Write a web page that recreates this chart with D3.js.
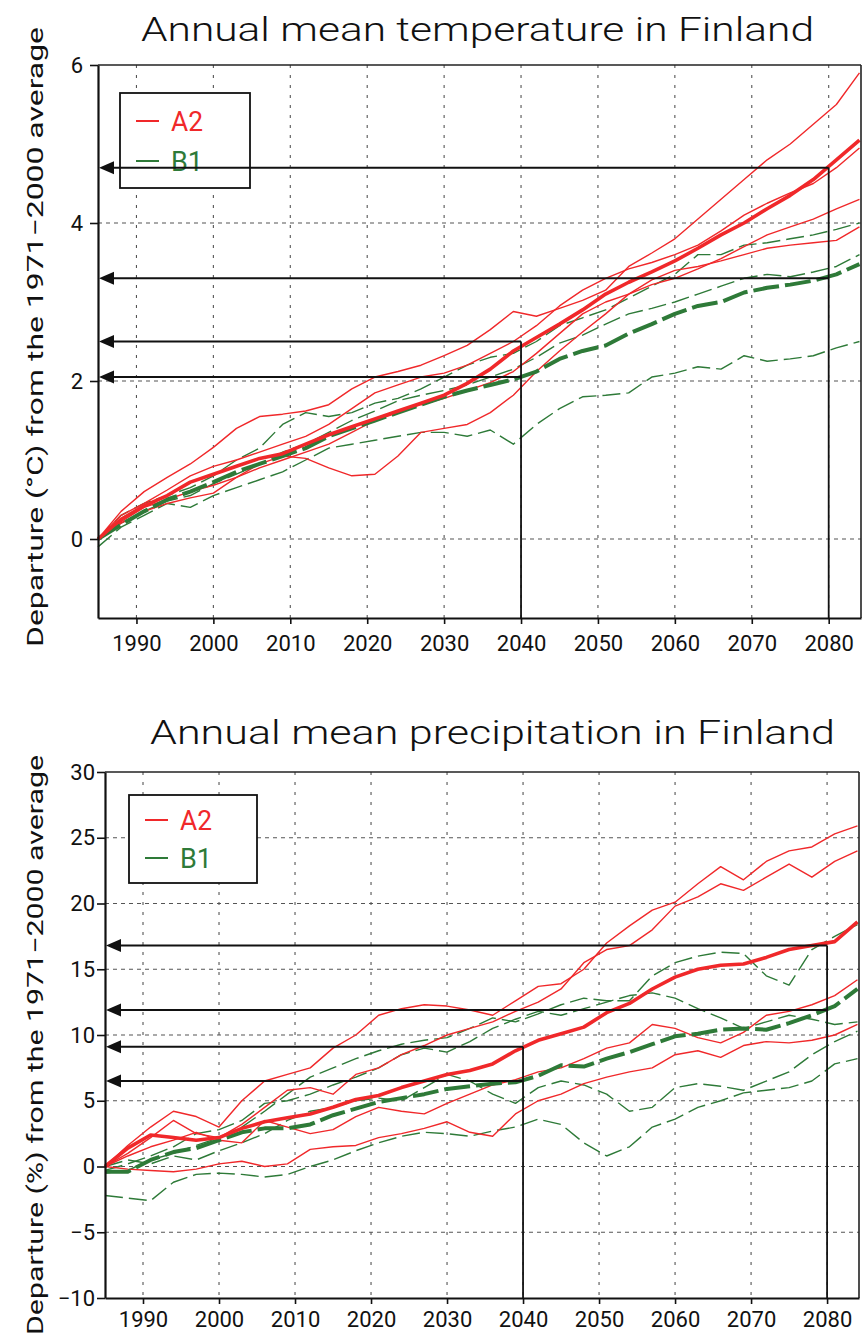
<!DOCTYPE html>
<html><head><meta charset="utf-8">
<script src="https://cdn.jsdelivr.net/npm/d3@7"></script>
<style>body{margin:0;background:#fff} svg{display:block}</style>
</head><body>
<svg id="c" width="865" height="1336"></svg>
<script>
// ---------- data ----------
const years = [1985,1988,1991,1994,1997,2000,2003,2006,2009,2012,2015,2018,2021,2024,2027,2030,2033,2036,2039,2042,2045,2048,2051,2054,2057,2060,2063,2066,2069,2072,2075,2078,2081,2084];
const xTicks = [1990,2000,2010,2020,2030,2040,2050,2060,2070,2080];
const tempTicks = [0,2,4,6];
const precTicks = [-10,-5,0,5,10,15,20,25,30];
const legendLabels = ["A2","B1"];

// temperature (°C)
const tempA2Mean = [0.00,0.25,0.42,0.55,0.72,0.82,0.92,1.02,1.08,1.20,1.32,1.42,1.52,1.62,1.72,1.82,1.97,2.15,2.38,2.55,2.72,2.90,3.10,3.25,3.38,3.52,3.68,3.85,4.00,4.18,4.35,4.55,4.80,5.05];
const tempB1Mean = [0.00,0.18,0.35,0.50,0.60,0.72,0.85,0.95,1.05,1.15,1.30,1.40,1.50,1.60,1.70,1.80,1.88,1.95,2.02,2.12,2.28,2.38,2.45,2.60,2.72,2.85,2.95,3.00,3.12,3.18,3.22,3.27,3.35,3.48];
const tempA2_1 = [0,0.35,0.60,0.78,0.95,1.16,1.40,1.55,1.58,1.62,1.70,1.90,2.05,2.12,2.20,2.32,2.45,2.65,2.88,2.82,2.92,3.02,3.15,3.45,3.62,3.80,4.05,4.30,4.55,4.80,5.00,5.25,5.50,5.90];
const tempA2_2 = [0,0.30,0.45,0.62,0.80,0.92,1.00,1.10,1.20,1.30,1.45,1.65,1.85,1.95,2.05,2.10,2.20,2.35,2.50,2.70,2.95,3.15,3.30,3.42,3.50,3.60,3.72,3.90,4.10,4.25,4.38,4.50,4.70,4.95];
const tempA2_3 = [0,0.22,0.40,0.50,0.60,0.68,0.78,0.90,1.00,1.10,1.20,1.35,1.50,1.60,1.70,1.78,1.88,1.98,2.12,2.35,2.60,2.85,3.00,3.10,3.22,3.30,3.42,3.55,3.70,3.85,3.95,4.05,4.18,4.30];
const tempA2_4 = [0,0.20,0.35,0.45,0.52,0.58,0.78,0.95,1.05,1.02,0.90,0.80,0.82,1.05,1.35,1.40,1.45,1.60,1.82,2.12,2.38,2.62,2.85,3.10,3.28,3.40,3.45,3.52,3.60,3.68,3.72,3.75,3.78,3.95];
const tempB1_1 = [0,0.30,0.45,0.55,0.65,0.80,1.00,1.15,1.45,1.60,1.55,1.60,1.72,1.78,1.90,2.05,2.20,2.30,2.35,2.50,2.70,2.80,2.90,3.05,3.20,3.35,3.60,3.60,3.72,3.75,3.80,3.85,3.92,4.00];
const tempB1_2 = [-0.10,0.15,0.30,0.45,0.40,0.55,0.65,0.75,0.85,1.00,1.15,1.20,1.25,1.30,1.35,1.35,1.30,1.38,1.20,1.45,1.65,1.80,1.82,1.85,2.05,2.10,2.18,2.15,2.32,2.25,2.28,2.32,2.42,2.50];
const tempB1_3 = [0,0.20,0.35,0.48,0.55,0.70,0.82,0.95,1.10,1.20,1.35,1.50,1.62,1.75,1.82,1.88,1.95,2.05,2.15,2.30,2.48,2.58,2.72,2.85,2.92,3.00,3.10,3.20,3.30,3.35,3.32,3.38,3.45,3.60];
const tempArrowYears = [2080,2080,2040,2040];
const tempArrowValues = [4.7,3.3,2.5,2.05];

// precipitation (%)
const precA2Mean = [0.0,1.4,2.4,2.2,2.0,2.2,2.9,3.4,3.7,4.0,4.5,5.1,5.4,6.0,6.5,7.0,7.3,7.8,8.8,9.6,10.1,10.6,11.7,12.4,13.5,14.4,15.0,15.3,15.4,15.9,16.5,16.8,17.1,18.6];
const precB1Mean = [-0.4,-0.4,0.5,1.1,1.4,2.0,2.6,2.9,2.9,3.2,3.9,4.4,4.9,5.2,5.5,5.9,6.1,6.3,6.4,6.9,7.7,7.6,8.2,8.7,9.3,9.9,10.1,10.4,10.5,10.4,10.9,11.5,12.2,13.5];
const precA2_1 = [0.0,1.6,3.0,4.2,3.8,3.0,5.0,6.5,7.0,7.5,9.0,10.0,11.5,12.0,12.3,12.2,11.9,11.5,12.6,13.7,13.9,15.0,17.0,18.3,19.5,20.1,21.5,22.8,21.8,23.2,24.0,24.3,25.3,25.9];
const precA2_2 = [0.0,1.0,2.2,3.5,2.5,2.2,3.2,4.5,5.8,6.0,5.5,7.0,7.5,8.5,9.2,10.0,10.5,11.0,11.8,12.5,13.5,15.5,16.5,16.8,18.0,19.8,20.5,21.5,21.0,22.0,23.0,22.0,23.2,24.0];
const precA2_3 = [0.0,0.8,1.5,2.0,2.6,2.0,1.8,3.5,3.0,2.5,2.8,3.8,4.5,4.2,4.0,4.8,5.5,6.2,6.6,7.2,7.5,8.2,9.0,9.4,10.8,10.5,9.8,9.4,10.2,11.5,11.8,12.3,13.0,14.2];
const precA2_4 = [0.0,-0.2,-0.3,-0.4,-0.2,0.2,0.4,0.0,0.2,1.3,1.5,1.6,2.2,2.5,2.9,3.4,2.6,2.3,4.0,5.0,5.5,6.3,6.8,7.2,7.5,8.5,8.8,8.3,9.2,9.5,9.4,9.6,10.0,10.8];
const precB1_1 = [-0.5,-0.3,0.5,1.0,1.6,2.2,3.0,4.2,5.5,6.8,7.5,8.2,8.8,9.3,9.6,9.8,10.5,11.3,11.0,11.6,12.3,12.8,12.6,12.6,14.5,15.5,16.0,16.3,16.2,14.5,13.8,16.5,17.5,18.4];
const precB1_2 = [-0.3,0.2,0.8,1.5,2.5,2.8,3.5,4.8,5.0,5.5,6.2,6.8,7.5,8.5,9.0,8.7,9.5,10.5,11.2,11.8,11.5,12.0,12.5,13.0,13.2,12.8,12.0,11.3,10.5,11.0,11.5,11.2,10.8,11.0];
const precB1_3 = [-2.2,-2.4,-2.6,-1.2,-0.6,-0.5,-0.6,-0.8,-0.6,0.0,0.5,1.2,1.8,2.3,2.6,2.5,2.3,2.7,3.0,3.6,3.2,1.8,0.8,1.5,3.0,3.6,4.5,5.0,5.6,5.8,6.0,6.5,7.8,8.2];
const precB1_4 = [0.0,0.5,0.2,0.8,0.5,1.2,1.8,2.5,3.5,4.2,4.5,5.0,5.2,5.0,6.0,7.0,6.5,5.5,4.8,6.0,6.5,6.2,5.5,4.2,4.5,6.0,6.3,6.1,5.8,6.5,7.2,8.5,9.5,10.3];
const precArrowYears = [2080,2080,2040,2040];
const precArrowValues = [16.8,11.9,9.1,6.5];

// ---------- drawing ----------
const RED = "#f0282a", GREEN = "#2e7a38";
const svg = d3.select("#c");

function drawPanel(o) {
  const x = d3.scaleLinear().domain([1985, 2084.2]).range([o.left, o.right]);
  const y = d3.scaleLinear().domain(o.yDomain).range([o.bottom, o.top]);
  const g = svg.append("g");

  g.append("text").attr("x", o.titleX).attr("y", o.titleY).text(o.title)
    .attr("font-family", "Roboto, 'DejaVu Sans', sans-serif").attr("font-weight", 300)
    .attr("font-size", 33).attr("fill", "#111")
    .attr("textLength", o.titleLen).attr("lengthAdjust", "spacingAndGlyphs");

  g.append("text")
    .attr("transform", `translate(${o.yTitleX},${o.yTitleY}) rotate(-90)`)
    .attr("text-anchor", "middle").text(o.yTitle)
    .attr("font-family", "Roboto, 'DejaVu Sans', sans-serif").attr("font-size", 22)
    .attr("fill", "#111").attr("textLength", o.yTitleLen).attr("lengthAdjust", "spacingAndGlyphs");

  g.append("g").selectAll("line").data(xTicks).join("line")
    .attr("x1", d => x(d)).attr("x2", d => x(d)).attr("y1", o.top).attr("y2", o.bottom)
    .attr("stroke", "#555").attr("stroke-width", 1.1).attr("stroke-dasharray", "3,7");
  g.append("g").selectAll("line")
    .data(o.yTicks.filter(v => v > o.yDomain[0] && v < o.yDomain[1])).join("line")
    .attr("x1", o.left).attr("x2", o.right).attr("y1", d => y(d)).attr("y2", d => y(d))
    .attr("stroke", "#555").attr("stroke-width", 1.1).attr("stroke-dasharray", "4,4");

  const line = d3.line().x((d, i) => x(years[i])).y(d => y(d));
  const lg = g.append("g").attr("fill", "none").attr("stroke-linejoin", "round");
  lg.selectAll(".gt").data(o.b1Models).join("path").attr("d", line)
    .attr("stroke", GREEN).attr("stroke-width", 1.4).attr("stroke-dasharray", "18,6");
  lg.selectAll(".rt").data(o.a2Models).join("path").attr("d", line)
    .attr("stroke", RED).attr("stroke-width", 1.4);
  lg.append("path").datum(o.b1Mean).attr("d", line)
    .attr("stroke", GREEN).attr("stroke-width", 4).attr("stroke-dasharray", "26,6");
  lg.append("path").datum(o.a2Mean).attr("d", line)
    .attr("stroke", RED).attr("stroke-width", 3.6);

  const L = o.legend;
  g.append("rect").attr("x", L.x).attr("y", L.y).attr("width", L.w).attr("height", L.h)
    .attr("fill", "#fff").attr("stroke", "#111").attr("stroke-width", 1.8);
  legendLabels.forEach((lab, i) => {
    const c = i === 0 ? RED : GREEN;
    const ly = L.y + L.rows[i];
    g.append("line").attr("x1", L.x + 16).attr("x2", L.x + 39).attr("y1", ly).attr("y2", ly)
      .attr("stroke", c).attr("stroke-width", 2);
    g.append("text").attr("x", L.x + 51).attr("y", ly + 10).text(lab)
      .attr("font-family", "Roboto, 'DejaVu Sans', sans-serif").attr("font-size", 28)
      .attr("fill", c).attr("textLength", 32).attr("lengthAdjust", "spacingAndGlyphs");
  });

  const ag = g.append("g");
  const vYears = Array.from(new Set(o.arrowYears));
  vYears.forEach(yr => {
    const top = d3.max(o.arrowValues.filter((v, i) => o.arrowYears[i] === yr));
    ag.append("line").attr("x1", x(yr)).attr("x2", x(yr))
      .attr("y1", y(o.yDomain[0])).attr("y2", y(top))
      .attr("stroke", "#111").attr("stroke-width", 1.8);
  });
  o.arrowValues.forEach((v, i) => {
    const yy = y(v), tip = o.left + 1;
    ag.append("line").attr("x1", x(o.arrowYears[i])).attr("x2", tip + 12)
      .attr("y1", yy).attr("y2", yy).attr("stroke", "#111").attr("stroke-width", 2);
    ag.append("path").attr("d", `M${tip},${yy} L${tip + 15},${yy - 6.5} L${tip + 15},${yy + 6.5} Z`)
      .attr("fill", "#111");
  });

  g.append("line").attr("x1", o.left).attr("x2", o.right).attr("y1", o.top).attr("y2", o.top)
    .attr("stroke", "#222").attr("stroke-width", 1.6);
  g.append("line").attr("x1", o.right).attr("x2", o.right).attr("y1", o.top).attr("y2", o.bottom)
    .attr("stroke", "#222").attr("stroke-width", 1.6);

  const ax = g.append("g").attr("transform", `translate(0,${o.bottom})`)
    .call(d3.axisBottom(x).tickValues(xTicks).tickFormat(d3.format("d"))
      .tickSize(6).tickPadding(o.xPad).tickSizeOuter(0));
  const ay = g.append("g").attr("transform", `translate(${o.left},0)`)
    .call(d3.axisLeft(y).tickValues(o.yTicks).tickFormat(d3.format("d"))
      .tickSize(8).tickPadding(o.yPad).tickSizeOuter(0));
  [ax, ay].forEach(a => {
    a.select(".domain").attr("stroke", "#111").attr("stroke-width", 2.2);
    a.selectAll(".tick line").attr("stroke", "#111").attr("stroke-width", 1.6);
    a.selectAll("text").attr("font-family", "Roboto, 'DejaVu Sans', sans-serif")
      .attr("font-size", 22).attr("font-weight", 400).attr("fill", "#111");
  });
}

drawPanel({
  left: 98, right: 861, top: 65, bottom: 618, yDomain: [-1, 6], yTicks: tempTicks,
  title: "Annual mean temperature in Finland", titleX: 141, titleY: 41, titleLen: 673,
  yTitle: "Departure (°C) from the 1971\u22122000 average", yTitleX: 43, yTitleY: 337, yTitleLen: 620,
  a2Mean: tempA2Mean, b1Mean: tempB1Mean,
  a2Models: [tempA2_1, tempA2_2, tempA2_3, tempA2_4],
  b1Models: [tempB1_1, tempB1_2, tempB1_3],
  arrowYears: tempArrowYears, arrowValues: tempArrowValues,
  legend: { x: 120, y: 93, w: 130, h: 95, rows: [28, 68] },
  xPad: 11, yPad: 7
});

drawPanel({
  left: 105, right: 859, top: 772, bottom: 1298, yDomain: [-10, 30], yTicks: precTicks,
  title: "Annual mean precipitation in Finland", titleX: 150, titleY: 744, titleLen: 685,
  yTitle: "Departure (%) from the 1971\u22122000 average", yTitleX: 43, yTitleY: 1045, yTitleLen: 580,
  a2Mean: precA2Mean, b1Mean: precB1Mean,
  a2Models: [precA2_1, precA2_2, precA2_3, precA2_4],
  b1Models: [precB1_1, precB1_2, precB1_3, precB1_4],
  arrowYears: precArrowYears, arrowValues: precArrowValues,
  legend: { x: 129, y: 795, w: 128, h: 88, rows: [25, 63] },
  xPad: 7, yPad: 2
});
</script>
</body></html>
